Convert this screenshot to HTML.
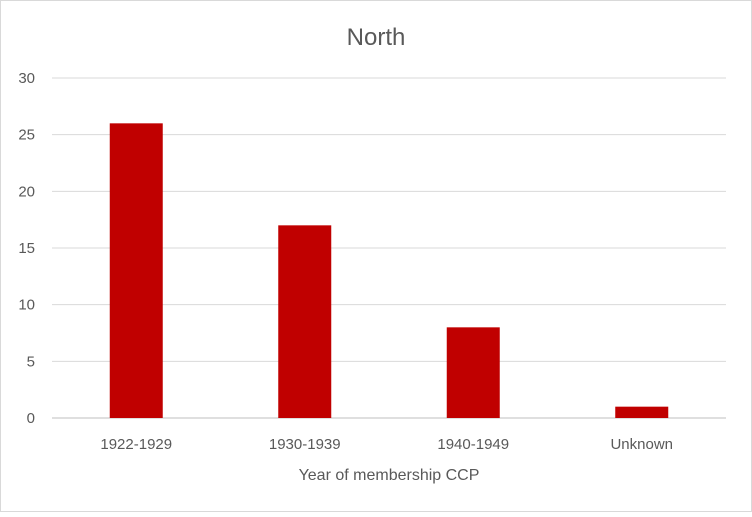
<!DOCTYPE html>
<html>
<head>
<meta charset="utf-8">
<style>
  html,body{margin:0;padding:0;background:#fff;}
  body{width:752px;height:512px;overflow:hidden;font-family:"Liberation Sans",sans-serif;}
  svg text{font-family:"Liberation Sans",sans-serif;fill:#595959;}
</style>
</head>
<body>
<svg id="chart" width="752" height="512" viewBox="0 0 752 512" xmlns="http://www.w3.org/2000/svg">
  <rect x="0.5" y="0.5" width="751" height="511" fill="#fff" stroke="#d9d9d9"/>
  <text x="376" y="45" text-anchor="middle" font-size="24">North</text>
  <g id="grid"></g>
  <g id="yticks"></g>
  <g id="bars"></g>
  <g id="xticks"></g>
  <text x="389" y="480" text-anchor="middle" font-size="16">Year of membership CCP</text>
</svg>
<script>
const categories = ["1922-1929","1930-1939","1940-1949","Unknown"];
const values = [26,17,8,1];
const yTicks = [0,5,10,15,20,25,30];

const NS = "http://www.w3.org/2000/svg";
const plotLeft = 52, plotRight = 726, yZero = 418, yTop = 78, yMax = 30;
const yScale = v => yZero - (v / yMax) * (yZero - yTop);
const band = (plotRight - plotLeft) / categories.length;
const xCenter = i => plotLeft + band * (i + 0.5);
const barW = 53;

function mk(tag, attrs, parent) {
  const el = document.createElementNS(NS, tag);
  for (const k in attrs) el.setAttribute(k, attrs[k]);
  parent.appendChild(el);
  return el;
}
const grid = document.getElementById("grid");
const yt = document.getElementById("yticks");
yTicks.forEach(t => {
  const y = yScale(t);
  const l = mk("line", {x1: plotLeft, x2: plotRight, y1: y, y2: y, stroke: t === 0 ? "#bfbfbf" : "#d9d9d9", "stroke-width": 1}, grid);
  
  
  const tx = mk("text", {x: 35, y: y + 5, "text-anchor": "end", "font-size": 15}, yt);
  
  
  tx.textContent = t;
});
const bars = document.getElementById("bars");
const xt = document.getElementById("xticks");
categories.forEach((c, i) => {
  const y = yScale(values[i]);
  const r = mk("rect", {x: xCenter(i) - barW / 2, y: y, width: barW, height: yZero - y, fill: "#c00000"}, bars);
  
  
  const tx = mk("text", {x: xCenter(i), y: 449, "text-anchor": "middle", "font-size": 15}, xt);
  
  
  tx.textContent = c;
});
</script>
</body>
</html>
